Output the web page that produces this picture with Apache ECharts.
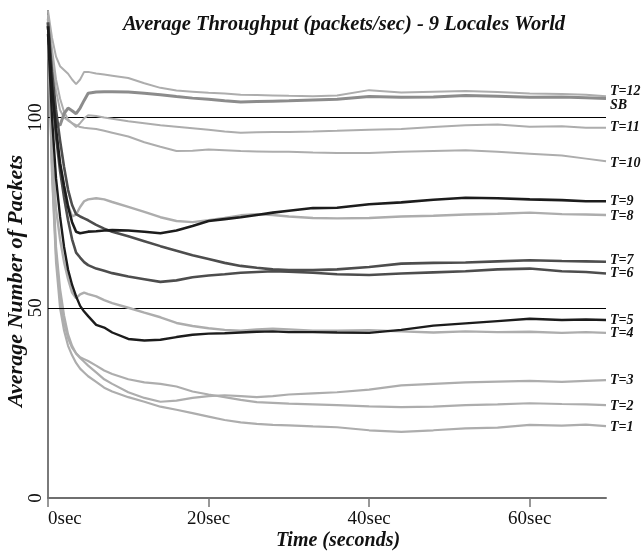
<!DOCTYPE html>
<html>
<head>
<meta charset="utf-8">
<script src="https://cdn.jsdelivr.net/npm/echarts@6/dist/echarts.min.js"></script>
<style>
  html, body { margin: 0; padding: 0; background: #fff; }
  #chart { width: 643px; height: 554px; }
</style>
</head>
<body>
<div id="chart"></div>
<script>
// sample times (seconds)
var times = [0, 0.5, 1, 1.5, 2, 2.5, 3, 3.5, 4, 4.5, 5, 6, 7, 8, 10, 12, 14, 16, 18, 20,
  22, 24, 26, 28, 30, 33, 36, 40, 44, 48, 52, 56, 60, 64, 67, 69.5];

// average number of packets per series
var t1 = [125, 85, 62, 50, 44, 40, 37.5, 35.5, 34, 33, 32, 30.5, 29, 28, 26.5, 25.3, 24, 23.2, 22.3, 21.4,
  20.5, 19.9, 19.5, 19.2, 19.1, 18.8, 18.6, 17.8, 17.4, 17.8, 18.3, 18.5, 19.2, 19.0, 19.3, 18.9];
var t2 = [126, 88, 66, 55, 48, 43, 40, 38, 37, 36.5, 36, 34.8, 33.5, 32.6, 31.2, 30.4, 30, 29.3, 28, 27.2,
  26.5, 25.8, 25.2, 25, 24.8, 24.6, 24.4, 24.1, 23.9, 24, 24.4, 24.6, 24.9, 24.7, 24.6, 24.4];
var t3 = [125, 86, 64, 53, 46, 42, 39.5, 38, 36.8, 35.8, 34.8, 33, 31.2, 30, 27.8, 26.3, 25.3, 25.6, 26.3, 26.8,
  27, 26.8, 26.5, 26.8, 27.2, 27.5, 27.8, 28.5, 29.6, 30, 30.4, 30.6, 30.8, 30.5, 30.8, 31];
var t4 = [125, 92, 76, 68, 62, 57.5, 54, 52.5, 53.5, 54, 53.6, 53, 52, 51.2, 50, 48.7, 47.5, 46, 45.2, 44.6,
  44.2, 44, 44.3, 44.5, 44.3, 44, 44, 44.1, 43.8, 43.5, 43.8, 43.6, 43.7, 43.4, 43.6, 43.4];
var t5 = [122, 100, 84, 74, 66, 60, 56, 53, 50.5, 49, 47.8, 45.5, 44.8, 43.5, 41.8, 41.4, 41.6, 42.3, 42.9, 43.2,
  43.3, 43.5, 43.7, 43.8, 43.6, 43.6, 43.5, 43.4, 44.2, 45.3, 45.9, 46.5, 47.1, 46.8, 46.9, 46.8];
var t6 = [124, 108, 95, 86, 79, 73, 68, 64.5, 63.2, 62, 61.2, 60.3, 59.7, 59.1, 58.2, 57.5, 56.8, 57.2, 58, 58.5,
  58.8, 59.2, 59.4, 59.6, 59.5, 59.2, 58.8, 58.6, 59, 59.3, 59.6, 60.1, 60.3, 59.6, 59.4, 59];
var t7 = [125, 112, 102, 94, 87, 81, 77, 74.6, 74, 73.5, 73, 71.8, 70.8, 70, 68.8, 67.5, 66.2, 65, 63.8, 62.8,
  61.8, 61, 60.5, 60.1, 59.9, 59.9, 60.1, 60.7, 61.6, 61.8, 61.9, 62.2, 62.5, 62.3, 62.2, 62.1];
var t8 = [126, 108, 96, 88, 82, 77, 74, 74.5, 76.5, 78, 78.5, 78.8, 78.5, 77.8, 76.5, 75.2, 73.8, 72.8, 72.5, 73,
  73.6, 74.3, 74.6, 74.4, 74, 73.6, 73.5, 73.6, 74, 74.2, 74.5, 74.7, 75, 74.6, 74.5, 74.4];
var t9 = [124, 108, 97, 88, 82, 76.5, 72.5, 70, 69.6, 69.8, 70, 70.1, 70.3, 70.4, 70.3, 70, 69.6, 70.3, 71.5, 72.8,
  73.3, 73.8, 74.4, 75, 75.5, 76.2, 76.3, 77.2, 77.7, 78.4, 78.9, 78.8, 78.5, 78.3, 78, 78];
var t10 = [127, 118, 110, 105, 101.5, 99.5, 98.5, 98, 97.5, 97.3, 97.2, 97, 96.5, 96, 95, 93.5, 92.3, 91.2, 91.3, 91.6,
  91.4, 91.2, 91.1, 91, 91, 90.8, 90.7, 90.7, 91, 91.2, 91.4, 91, 90.5, 90, 89.2, 88.5];
var t11 = [127, 115, 107, 102, 100, 99.2, 98.5, 97.5, 98.5, 99.8, 100.6, 100.4, 100, 99.7, 99, 98.5, 98, 97.6, 97.2, 96.8,
  96.3, 96, 96.1, 96.2, 96.2, 96.3, 96.5, 96.8, 97, 97.5, 98, 98.2, 97.6, 97.7, 97.3, 97.3];
var t12 = [128, 121, 116, 113.5, 112.5, 111.5, 110, 108.8, 110, 112, 112, 111.6, 111.3, 111, 110.4, 109, 107.8, 107.1, 106.8, 106.5,
  106.3, 106, 105.9, 105.8, 105.7, 105.6, 105.8, 107.2, 106.6, 106.8, 107, 106.7, 106.3, 106.2, 106, 105.6];
var sb = [125, 108, 98.5, 98, 101, 102.5, 101.8, 101, 102.5, 104.5, 106.4, 106.7, 106.8, 106.8, 106.7, 106.4, 106, 105.5, 105.1, 104.8,
  104.4, 104.1, 104.2, 104.3, 104.4, 104.6, 104.8, 105.5, 105.3, 105.4, 105.8, 105.6, 105.3, 105.4, 105.2, 105];

// reference levels and axis ticks
var refLevels = [50, 100];
var xTicks = [0, 20, 40, 60];
var yTicks = [0, 50, 100];

var LIGHT = '#adadad', MID = '#8c8c8c', DARK = '#4d4d4d', BLACK = '#1c1c1c';

// name, data, colour, width, label offset (dy)
var lines = [
  ['T=1', t1, LIGHT, 2.2, 1],
  ['T=2', t2, LIGHT, 2.2, 1],
  ['T=3', t3, LIGHT, 2.2, 0],
  ['T=4', t4, LIGHT, 2.4, 1],
  ['T=8', t8, LIGHT, 2.4, 1],
  ['T=10', t10, LIGHT, 2, 2],
  ['T=11', t11, LIGHT, 2, 0],
  ['T=12', t12, LIGHT, 2, -5],
  ['SB', sb, MID, 3, 7],
  ['T=6', t6, DARK, 2.6, 0],
  ['T=7', t7, DARK, 2.6, -1],
  ['T=5', t5, BLACK, 2.4, 0],
  ['T=9', t9, BLACK, 2.6, 0]
];

var serif = '"Liberation Serif", "DejaVu Serif", serif';

var chart = echarts.init(document.getElementById('chart'));

var series = lines.map(function (l, i) {
  var s = {
    name: l[0],
    type: 'line',
    showSymbol: false,
    data: times.map(function (t, k) { return [t, l[1][k]]; }),
    lineStyle: { color: l[2], width: l[3] },
    itemStyle: { color: l[2] },
    z: 2 + i,
    endLabel: {
      show: true,
      formatter: l[0],
      distance: 4,
      offset: [0, l[4]],
      color: '#111',
      fontFamily: serif,
      fontStyle: 'italic',
      fontWeight: 'bold',
      fontSize: 14
    }
  };
  if (i === 0) {
    s.markLine = {
      silent: true,
      symbol: 'none',
      label: { show: false },
      lineStyle: { color: '#000', width: 1, type: 'solid' },
      data: refLevels.map(function (v) { return { yAxis: v }; })
    };
  }
  return s;
});

var option = {
  animation: false,
  backgroundColor: '#fff',
  title: {
    text: 'Average Throughput (packets/sec) - 9 Locales World',
    left: 339,
    textAlign: 'center',
    top: 10,
    textStyle: {
      color: '#111',
      fontFamily: serif,
      fontStyle: 'italic',
      fontWeight: 'bold',
      fontSize: 20.5
    }
  },
  grid: { left: 48, right: 37, top: 11, bottom: 56, containLabel: false, outerBoundsMode: 'none' },
  xAxis: {
    type: 'value',
    min: 0,
    max: 69.5,
    interval: 20,
    name: 'Time (seconds)',
    nameLocation: 'middle',
    nameGap: 33,
    nameMoveOverlap: false,
    nameTextStyle: {
      color: '#111',
      fontFamily: serif,
      fontStyle: 'italic',
      fontWeight: 'bold',
      fontSize: 20,
      padding: [0, 0, 0, 22]
    },
    axisLine: { lineStyle: { color: '#6f6f6f', width: 2 } },
    axisTick: { show: true, length: 9, customValues: xTicks, lineStyle: { color: '#777', width: 1.5 } },
    axisLabel: {
      customValues: xTicks,
      formatter: '{value}sec',
      alignMinLabel: 'left',
      margin: 12,
      color: '#111',
      fontFamily: serif,
      fontSize: 19
    },
    splitLine: { show: false }
  },
  yAxis: {
    type: 'value',
    min: 0,
    max: 128,
    interval: 50,
    name: 'Average Number of Packets',
    nameLocation: 'middle',
    nameGap: 21,
    nameMoveOverlap: false,
    nameTextStyle: {
      color: '#111',
      fontFamily: serif,
      fontStyle: 'italic',
      fontWeight: 'bold',
      fontSize: 22,
      padding: [0, 53, 0, 0]
    },
    axisLine: { show: true, lineStyle: { color: '#7a7a7a', width: 2 } },
    axisTick: { show: false, customValues: yTicks },
    axisLabel: {
      customValues: yTicks,
      rotate: 90,
      margin: 2,
      color: '#111',
      fontFamily: serif,
      fontSize: 19
    },
    splitLine: { show: false }
  },
  series: series
};

chart.setOption(option);
</script>
</body>
</html>
